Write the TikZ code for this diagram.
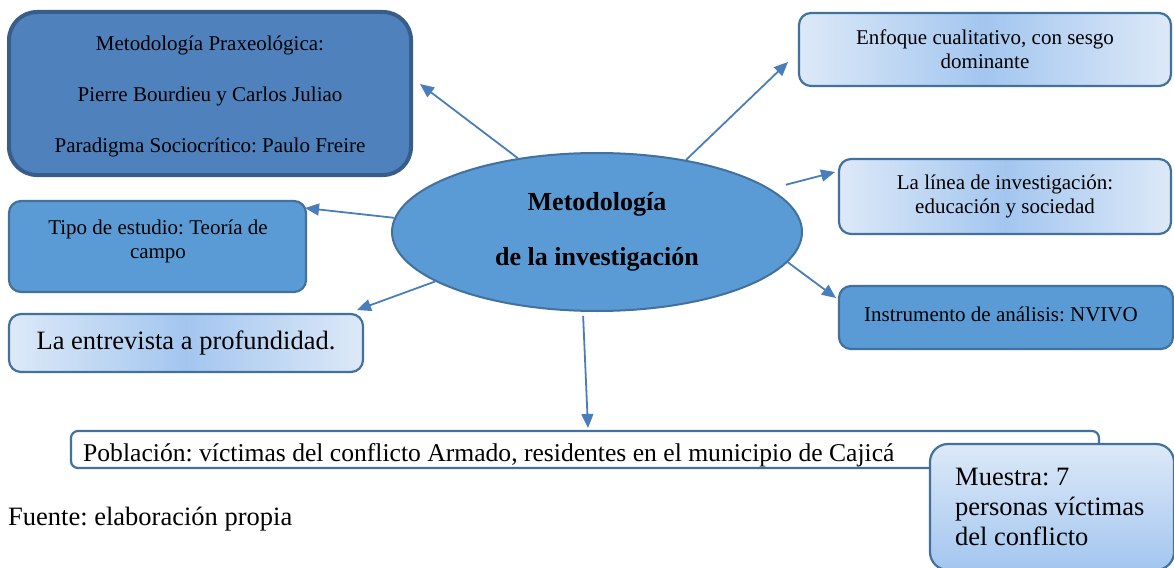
\documentclass[tikz,border=0pt]{standalone}
\usepackage{fontspec}
\setmainfont{Liberation Serif}
\usetikzlibrary{arrows.meta,shapes.geometric}
\definecolor{midblue}{HTML}{5B9BD5}
\definecolor{darkfill}{HTML}{4F81BD}
\definecolor{darkedge}{HTML}{385D8A}
\definecolor{edgeblue}{HTML}{41719C}
\definecolor{arrowblue}{HTML}{4A7EBB}
\definecolor{lightedge}{HTML}{DDE9F8}
\definecolor{lightmid}{HTML}{A3C6EF}
\tikzset{
  box/.style={draw=edgeblue, line width=2.2pt, rounded corners=12pt, inner sep=0pt},
  midbox/.style={box, fill=midblue},
  gradbox/.style={box, left color=lightedge, right color=lightedge, middle color=lightmid},
  arr/.style={draw=arrowblue, line width=1.8pt, -{Triangle[length=14pt,width=12pt]}},
  small/.style={font=\fontsize{21}{24}\selectfont, inner sep=0pt},
  big/.style={font=\fontsize{26.5}{30}\selectfont, inner sep=0pt}
}
\begin{document}
\frenchspacing
\begin{tikzpicture}[x=1pt,y=-1pt]
\useasboundingbox (0,0) rectangle (1174,567);

% central ellipse
\node[ellipse, draw=edgeblue, line width=2pt, fill=midblue, minimum width=410pt, minimum height=158pt, inner sep=0pt,
      align=center, font=\fontsize{26}{55}\selectfont\bfseries] (c) at (597,232)
      {Metodología\\de la investigación};

% top-left dark box
\node[box, draw=darkedge, line width=4pt, fill=darkfill, rounded corners=28pt, minimum width=402pt, minimum height=163pt] (b1) at (210,93.5) {};
\node[small, align=center, font=\fontsize{21}{51}\selectfont] (b1t) at (210,96)
  {Metodología Praxeológica:\\Pierre Bourdieu y Carlos Juliao\\Paradigma Sociocrítico: Paulo Freire};

% Enfoque
\node[gradbox, minimum width=372pt, minimum height=73pt, small, align=center] (enf) at (985,49.5)
  {Enfoque cualitativo, con sesgo\\dominante};

% La linea
\node[gradbox, minimum width=332pt, minimum height=75pt, small, align=center] (lin) at (1005,196.5)
  {La línea de investigación:\\educación y sociedad};

% Instrumento
\node[midbox, minimum width=334pt, minimum height=63pt] (ins) at (1006,317.5) {};
\node[small] (inst) at (1001,314) {Instrumento de análisis: NVIVO};

% Tipo de estudio
\node[midbox, minimum width=297pt, minimum height=91pt] (tip) at (157.5,246.5) {};
\node[small, align=center] (tipt) at (158,241) {Tipo de estudio: Teoría de\\campo};

% Entrevista
\node[gradbox, minimum width=354pt, minimum height=58pt, big] (ent) at (186,343) {La entrevista a profundidad.};

% Poblacion
\node[box, fill=white, rounded corners=7pt, minimum width=1028pt, minimum height=37pt] (pob) at (585,449.5) {};
\node[inner sep=0pt, font=\fontsize{25.6}{30}\selectfont, anchor=west] (pobt) at (83,455) {Población: víctimas del conflicto Armado, residentes en el municipio de Cajicá};

% Muestra
\node[box, rounded corners=18pt, top color=lightedge, bottom color=lightmid, minimum width=244pt, minimum height=126pt] (mue) at (1052,507) {};
\node[big, align=left, anchor=north west] (muet) at (955,468)
  {Muestra: 7\\personas víctimas\\del conflicto};

% Fuente
\node[big, anchor=west] (fue) at (8,519) {Fuente: elaboración propia};

% arrow tips
\coordinate (t1) at (420,84);
\coordinate (t2) at (788,62);
\coordinate (t3) at (835,172);
\coordinate (t4) at (836,298);
\coordinate (t5) at (305,208);
\coordinate (t6) at (357,310);
\coordinate (t7) at (588,428);

\draw[arr] (c.137) -- (t1);
\draw[arr] (c.39) -- (t2);
\draw[arr, shorten <=16pt] (c.14) -- (t3);
\draw[arr] (c.-9) -- (t4);
\draw[arr] (c.176) -- (t5);
\draw[arr] (c.197) -- (t6);
\draw[arr, shorten <=4pt] (c.260) -- (t7);
\end{tikzpicture}
\end{document}
